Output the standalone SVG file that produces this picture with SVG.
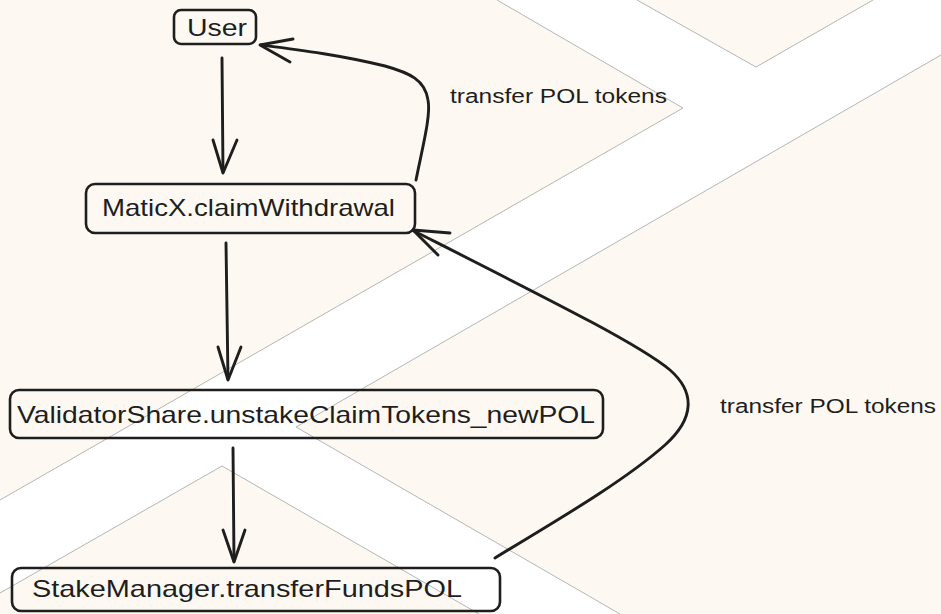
<svg xmlns="http://www.w3.org/2000/svg" width="941" height="614" viewBox="0 0 941 614">
<defs>
<style>
.bg{fill:#fdf9f2}
.band{fill:#ffffff}
.seam{fill:none;stroke:#b5b5b5;stroke-width:1}
.box{fill:none;stroke:#1e1e1e;stroke-width:2.6}
.lbl{font-family:"Liberation Sans",Arial,sans-serif;font-size:24px;fill:#1e1e1e}
.elbl{font-family:"Liberation Sans",Arial,sans-serif;font-size:20px;fill:#1e1e1e}
.edge{fill:none;stroke:#1e1e1e;stroke-width:2.9;stroke-linecap:round;stroke-linejoin:round}
</style>
</defs>
<g id="background">
<rect class="bg" x="0" y="0" width="941" height="614"/>
<polygon class="band" points="497,0 637,0 756,67 873,0 941,0 941,55 296,427 620,614 479,614 222,466 0,593 0,500 683,108"/>
<polyline class="seam" points="497,0 683,108 0,500"/>
<polyline class="seam" points="637,0 756,67 873,0"/>
<polyline class="seam" points="941,55 296,427 620,614"/>
<polyline class="seam" points="0,593 222,466 479,614"/>
</g>
<g id="connectors">
<path class="edge" d="M222,58 L223,172"/>
<path class="edge" d="M213,140 L223,173 L237,140"/>
<path class="edge" d="M226,243 L228,379"/>
<path class="edge" d="M218,347 L228,380 L241,347"/>
<path class="edge" d="M233,448 L234,561"/>
<path class="edge" d="M223,530 L234,562 L245,530"/>
<path class="edge" d="M416,180 C423,145 431,115 428,100 C425,80 410,73 385,66 C340,55 300,50 261,45"/>
<path class="edge" d="M293,39 L260,45 L290,62"/>
<path class="edge" d="M495,558 C540,530 620,485 665,445 C695,418 695,392 670,370 C640,345 560,305 414,231"/>
<path class="edge" d="M450,233 L413,230 L438,255"/>
<text class="elbl" x="450" y="103" textLength="217" lengthAdjust="spacingAndGlyphs">transfer POL tokens</text>
<text class="elbl" x="720" y="413" textLength="216" lengthAdjust="spacingAndGlyphs">transfer POL tokens</text>
</g>
<g id="node-user">
<rect class="box" x="174" y="10" width="82" height="34" rx="7"/>
<text class="lbl" x="187" y="36" font-size="22" textLength="60" lengthAdjust="spacingAndGlyphs">User</text>
</g>
<g id="node-maticx">
<rect class="box" x="86" y="184" width="329" height="49" rx="9"/>
<text class="lbl" x="102" y="216" textLength="293" lengthAdjust="spacingAndGlyphs">MaticX.claimWithdrawal</text>
</g>
<g id="node-validatorshare">
<rect class="box" x="10" y="390" width="593" height="48" rx="9"/>
<text class="lbl" x="17" y="423" textLength="578" lengthAdjust="spacingAndGlyphs">ValidatorShare.unstakeClaimTokens_newPOL</text>
</g>
<g id="node-stakemanager">
<rect class="box" x="12" y="568" width="488" height="43" rx="9"/>
<text class="lbl" x="32" y="597" textLength="430" lengthAdjust="spacingAndGlyphs">StakeManager.transferFundsPOL</text>
</g>
</svg>
